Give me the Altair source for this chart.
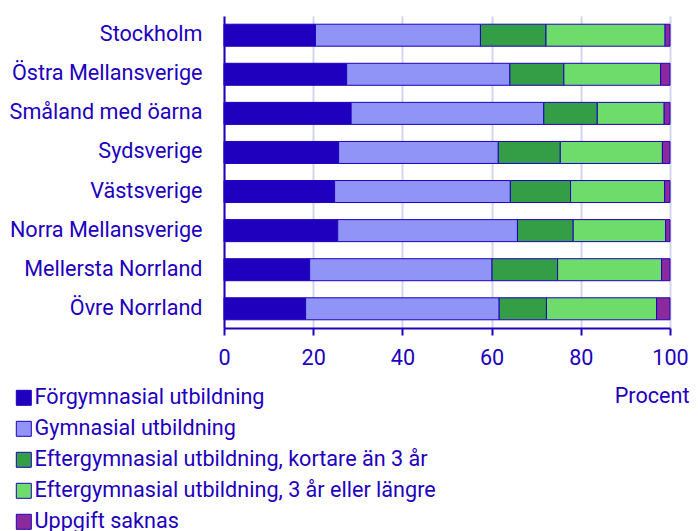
import altair as alt
import pandas as pd

regions = ["Stockholm", "Östra Mellansverige", "Småland med öarna", "Sydsverige",
           "Västsverige", "Norra Mellansverige", "Mellersta Norrland", "Övre Norrland"]
categories = ["Förgymnasial utbildning", "Gymnasial utbildning",
              "Eftergymnasial utbildning, kortare än 3 år",
              "Eftergymnasial utbildning, 3 år eller längre", "Uppgift saknas"]
forgymnasial = [20.5, 27.5, 28.5, 25.7, 24.8, 25.5, 19.2, 18.3]
gymnasial = [37.0, 36.6, 43.2, 35.8, 39.4, 40.3, 40.9, 43.4]
kort = [14.7, 12.1, 12.0, 13.9, 13.5, 12.5, 14.7, 10.6]
lang = [26.7, 21.7, 15.0, 22.9, 21.1, 20.7, 23.3, 24.7]
saknas = [1.1, 2.1, 1.3, 1.7, 1.2, 1.0, 1.9, 3.0]
colors = ["#1e00be", "#8f94f6", "#339e45", "#6ddc6a", "#8a2a9c"]

series = [forgymnasial, gymnasial, kort, lang, saknas]
rows = []
for ci, (cat, vals) in enumerate(zip(categories, series)):
    for r, v in zip(regions, vals):
        rows.append({"Region": r, "Kategori": cat, "Procent": v, "ord": ci})
df = pd.DataFrame(rows)

text_color = "#1e00be"
fs = 21.6

chart = alt.Chart(df).mark_bar(stroke="#1e00be", strokeWidth=1).encode(
    y=alt.Y("Region:N", sort=regions, scale=alt.Scale(paddingInner=0.437, paddingOuter=0.21),
            axis=alt.Axis(title=None, ticks=False, labelPadding=22, labelFontSize=fs,
                          labelColor=text_color, domainColor=text_color, domainWidth=2,
                          labelFont="Roboto", labelLimit=400)),
    x=alt.X("Procent:Q", stack="zero", scale=alt.Scale(domain=[0, 100]),
            axis=alt.Axis(values=[0, 20, 40, 60, 80, 100], title="Procent", labelFlush=False,
                          titleX=465, titleY=68, titleAlign="right", titleBaseline="middle",
                          titleFontSize=fs, titleFontWeight="normal", titleColor=text_color,
                          titleFont="Roboto",
                          labelFontSize=fs, labelColor=text_color, labelFont="Roboto",
                          labelPadding=12, tickColor=text_color, tickSize=7, tickWidth=2,
                          domainColor=text_color, domainWidth=2,
                          gridColor="#d4d4ef", gridWidth=2)),
    color=alt.Color("Kategori:N", sort=categories,
                    scale=alt.Scale(domain=categories, range=colors),
                    legend=alt.Legend(title=None, orient="none", legendX=-211, legendY=371,
                                      direction="vertical", symbolType="square",
                                      symbolSize=225, symbolStrokeColor="#1e00be",
                                      symbolStrokeWidth=1, labelFontSize=fs,
                                      labelColor=text_color, labelFont="Roboto",
                                      rowPadding=8, labelLimit=600, labelOffset=0,
                                      padding=0)),
    order=alt.Order("ord:Q"),
).properties(
    width=446, height=312,
    autosize=alt.AutoSizeParams(type="none"),
    padding={"left": 216, "top": 8, "right": 20, "bottom": 203}
).configure_view(stroke=None)

chart.save("out.html", embed_options={"renderer": "svg", "actions": False})
